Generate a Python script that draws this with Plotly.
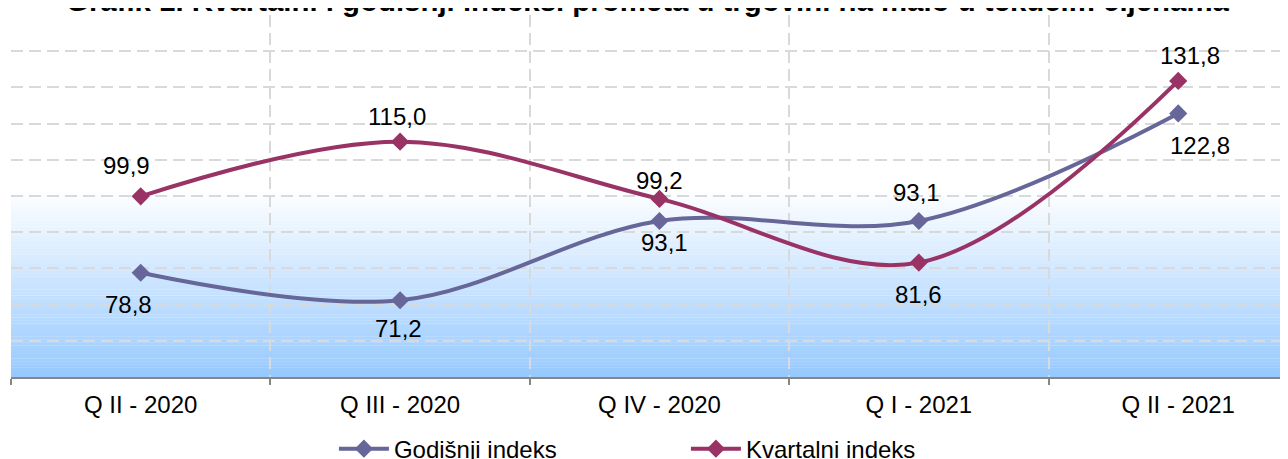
import plotly.graph_objects as go

categories = ["Q II - 2020", "Q III - 2020", "Q IV - 2020", "Q I - 2021", "Q II - 2021"]
godisnji = [78.8, 71.2, 93.1, 93.1, 122.8]
kvartalni = [99.9, 115.0, 99.2, 81.6, 131.8]
godisnji_labels = ["78,8", "71,2", "93,1", "93,1", "122,8"]
kvartalni_labels = ["99,9", "115,0", "99,2", "81,6", "131,8"]
title_text = "Grafik 1. Kvartalni i godišnji indeksi prometa u trgovini na malo u tekućim cijenama"

# label offsets in px (styling)
god_shift = [(-12, -32), (-2, -28), (5, -22), (-2, 28), (22, -32)]
kv_shift = [(-14, 31), (-3, 25), (0, 18), (0, -32), (12, 25)]

FONT = "Liberation Sans, Arial, sans-serif"
C_GOD = "#666699"
C_KV = "#993366"

fig = go.Figure()
fig.add_trace(go.Scatter(
    x=categories, y=godisnji, name="Godišnji indeks", mode="lines+markers",
    line=dict(color=C_GOD, width=4, shape="spline", smoothing=1),
    marker=dict(symbol="diamond", size=14, color=C_GOD),
))
fig.add_trace(go.Scatter(
    x=categories, y=kvartalni, name="Kvartalni indeks", mode="lines+markers",
    line=dict(color=C_KV, width=4, shape="spline", smoothing=1),
    marker=dict(symbol="diamond", size=14, color=C_KV),
))

annotations = []
for cat, val, lab, (dx, dy) in zip(categories, godisnji, godisnji_labels, god_shift):
    annotations.append(dict(x=cat, y=val, text=lab, showarrow=False, xshift=dx, yshift=dy,
                            font=dict(size=24, color="black", family=FONT)))
for cat, val, lab, (dx, dy) in zip(categories, kvartalni, kvartalni_labels, kv_shift):
    annotations.append(dict(x=cat, y=val, text=lab, showarrow=False, xshift=dx, yshift=dy,
                            font=dict(size=24, color="black", family=FONT)))

# gradient background (white -> light blue toward the bottom)
shapes = []
n = 60
y_top, y_bot = 102.0, 50.0
top_rgb = (255, 255, 255)
bot_rgb = (150, 201, 255)
for i in range(n):
    t0 = i / n
    t1 = (i + 1) / n
    tm = (t0 + t1) / 2
    col = tuple(int(round(top_rgb[k] + (bot_rgb[k] - top_rgb[k]) * tm)) for k in range(3))
    shapes.append(dict(type="rect", xref="paper", x0=0, x1=1, yref="y",
                       y0=y_top - (y_top - y_bot) * t0, y1=y_top - (y_top - y_bot) * t1 - 0.05,
                       fillcolor="rgb(%d,%d,%d)" % col, line=dict(width=0), layer="below"))

fig.update_layout(
    width=1288, height=470,
    margin=dict(l=3, r=0, t=7, b=101),
    paper_bgcolor="white", plot_bgcolor="white",
    font=dict(family=FONT, size=24, color="black"),
    title=dict(text="<b>" + title_text + "</b>", x=0.4953, xref="paper", xanchor="center",
               y=1, yref="paper", yanchor="bottom", pad=dict(b=4, t=0), automargin=False,
               font=dict(size=29.4, color="black", family=FONT)),
    showlegend=True,
    legend=dict(orientation="h", x=0.2513, xanchor="left", y=-0.199, yanchor="middle",
                font=dict(size=24, color="black", family=FONT),
                entrywidth=287, entrywidthmode="pixels", itemwidth=50,
                bgcolor="rgba(0,0,0,0)"),
    annotations=annotations,
    shapes=shapes,
    xaxis=dict(type="category", range=[-0.5, 4.454], tickson="boundaries",
               showgrid=True, gridcolor="#D9D9D9", gridwidth=1.5, griddash="12px,6px",
               showline=True, linecolor="#868686", linewidth=1.5,
               ticks="outside", ticklen=6, tickcolor="#868686", tickwidth=1.5,
               ticklabelstandoff=5,
               tickfont=dict(size=24, color="black", family=FONT), fixedrange=True),
    yaxis=dict(range=[50, 150], dtick=10, showticklabels=False, showgrid=True,
               gridcolor="#D9D9D9", gridwidth=1.5, griddash="12px,6px",
               zeroline=False, showline=False, ticks="", fixedrange=True),
)

fig.write_html("out.html")
